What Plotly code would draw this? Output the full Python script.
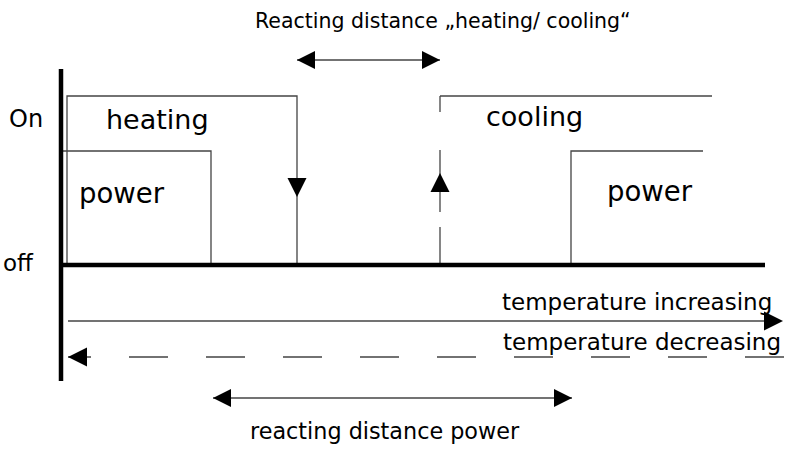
import plotly.graph_objects as go

# ---- diagram data (temperature axis = x, switching state = y) ----
LEVEL_OFF = 265
LEVEL_POWER = 151
LEVEL_ON = 96

axis_x = [61, 61]
axis_y = [69, 381]
baseline_x = [61, 765]
baseline_y = [LEVEL_OFF, LEVEL_OFF]

heating_x = [67, 67, 297, 297]
heating_y = [LEVEL_OFF, LEVEL_ON, LEVEL_ON, LEVEL_OFF]
heat_power_x = [63, 211, 211]
heat_power_y = [LEVEL_POWER, LEVEL_POWER, LEVEL_OFF]

cooling_top_x = [440, 712]
cooling_top_y = [LEVEL_ON, LEVEL_ON]
cooling_vert_x = [440, 440, None, 440, 440, None, 440, 440]
cooling_vert_y = [96, 112, None, 150, 212, None, 227, LEVEL_OFF]
cool_power_x = [571, 571, 703]
cool_power_y = [LEVEL_OFF, LEVEL_POWER, LEVEL_POWER]

# arrows
switch_tips_x = [297, 440]
switch_tips_y = [197, 173]
switch_symbols = ["arrow-down", "arrow-up"]

hc_dist_x = [297, 440]
hc_dist_y = [60, 60]
power_dist_x = [213, 572]
power_dist_y = [398, 398]
temp_inc_x = [68, 783]
temp_inc_y = [321, 321]
temp_dec_x = [784, 68]
temp_dec_y = [357, 357]

labels = ["Reacting distance \u201eheating/ cooling\u201c", "On", "off", "heating", "power",
          "cooling", "power", "temperature increasing", "temperature decreasing",
          "reacting distance power"]
label_x = [443, 26, 18, 157, 122, 534, 650, 637, 642, 385]
label_y = [21, 119, 263, 119, 193, 116, 191, 302, 342, 431]
label_size = [20.5, 24, 23, 27, 27.5, 27, 27.5, 23, 23, 22.3]

FONT = "DejaVu Sans"
THIN = "#444444"

fig = go.Figure()

def line(x, y, width=1.3, color=THIN, dash=None):
    fig.add_trace(go.Scatter(x=x, y=y, mode="lines", hoverinfo="skip",
                             line=dict(color=color, width=width, dash=dash),
                             showlegend=False))

def heads(x, y, symbols, size):
    fig.add_trace(go.Scatter(x=x, y=y, mode="markers", hoverinfo="skip",
                             marker=dict(symbol=symbols, size=size, color="black",
                                         line=dict(width=0)),
                             showlegend=False))

# state lines
line(heating_x, heating_y)
line(heat_power_x, heat_power_y)
line(cooling_top_x, cooling_top_y)
line(cooling_vert_x, cooling_vert_y)
line(cool_power_x, cool_power_y)

# thick axes
line(axis_x, axis_y, width=4.5, color="black")
line(baseline_x, baseline_y, width=4.5, color="black")

# distance arrows
line(hc_dist_x, hc_dist_y)
heads(hc_dist_x, hc_dist_y, ["arrow-left", "arrow-right"], 18)
line(power_dist_x, power_dist_y)
heads(power_dist_x, power_dist_y, ["arrow-left", "arrow-right"], 18)

# temperature direction arrows
line([temp_inc_x[0], temp_inc_x[1] - 10], temp_inc_y)
heads([temp_inc_x[1]], [temp_inc_y[1]], ["arrow-right"], 19)
line(temp_dec_x, temp_dec_y, dash="39px,38px")
heads([temp_dec_x[1]], [temp_dec_y[1]], ["arrow-left"], 19)

# switching arrows
heads(switch_tips_x, switch_tips_y, switch_symbols, 19)

for t, x, y, s in zip(labels, label_x, label_y, label_size):
    fig.add_annotation(x=x, y=y, text=t, showarrow=False, xanchor="center", yanchor="middle",
                       font=dict(family=FONT, size=s, color="black"))

fig.update_layout(
    width=787, height=450, autosize=False,
    margin=dict(l=0, r=0, t=0, b=0),
    paper_bgcolor="white", plot_bgcolor="white",
    xaxis=dict(range=[0, 787], visible=False, fixedrange=True),
    yaxis=dict(range=[450, 0], visible=False, fixedrange=True),
)

fig.write_html("out.html", config={"displayModeBar": False},
               post_script="document.body.style.margin='0';document.body.style.overflow='hidden';")
